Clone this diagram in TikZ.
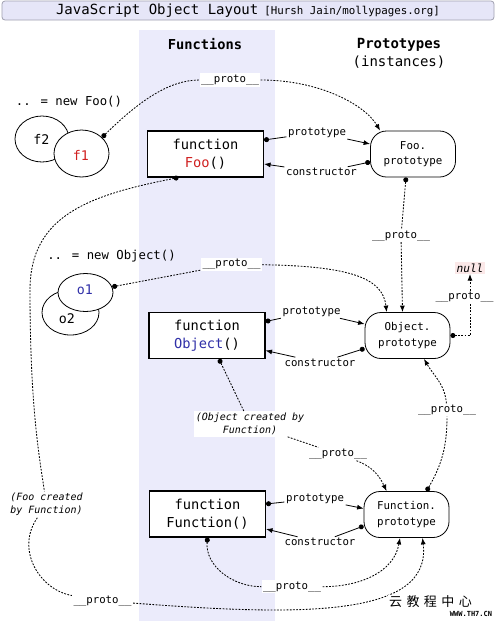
\documentclass[tikz,border=0pt]{standalone}
\usepackage{fontspec}
\setmainfont{DejaVu Sans Mono}
\newfontfamily\cjk{Noto Sans CJK SC}
\usetikzlibrary{arrows.meta,shapes.geometric,calc}
\definecolor{bandc}{HTML}{EBEBFB}
\definecolor{titlec}{HTML}{E6E6F8}
\definecolor{titleb}{HTML}{A0A0B0}
\definecolor{redc}{HTML}{D02020}
\definecolor{bluec}{HTML}{3030A8}
\definecolor{nullc}{HTML}{FBE8E8}
\tikzset{
  fbox/.style={draw, line width=1.1pt, fill=white, minimum width=116pt, minimum height=46pt, inner sep=0pt, align=center, font=\fontsize{13.7}{18.5}\selectfont},
  pbox/.style={draw, line width=0.8pt, fill=white, rounded corners=16pt, minimum width=85pt, minimum height=46pt, inner sep=0pt, align=center, font=\fontsize{10.8}{15.5}\selectfont},
  obj/.style={draw, line width=0.8pt, fill=white, ellipse, inner sep=0pt, font=\fontsize{13.3}{14}\selectfont},
  lbl/.style={fill=white, inner sep=1.5pt, font=\fontsize{10.7}{12}\selectfont},
  ilbl/.style={fill=white, inner sep=1.5pt, align=center, font=\fontsize{10}{13.4}\selectfont\itshape},
  solidc/.style={line width=0.8pt, {Circle[length=5pt]}-},
  solida/.style={line width=0.8pt, -{Latex[length=6.5pt,width=5pt]}},
  dotc/.style={line width=0.85pt, dash pattern=on 1.8pt off 1.4pt, {Circle[length=5pt]}-},
  dotl/.style={line width=0.85pt, dash pattern=on 1.8pt off 1.4pt},
  dota/.style={line width=0.85pt, dash pattern=on 1.8pt off 1.4pt, -{Latex[length=6.5pt,width=5pt]}},
}
\begin{document}
\begin{tikzpicture}[x=1pt,y=-1pt]
\useasboundingbox (0,0) rectangle (500,622);
% band
\fill[bandc] (139,30) rectangle (275,621);
% title
\node[draw=titleb, fill=titlec, line width=0.8pt, rounded corners=3pt, minimum width=492pt, minimum height=19pt, inner sep=0pt] (title) at (248,10.5)
  {{\fontsize{14}{14}\selectfont JavaScript Object Layout} {\fontsize{10.8}{12}\selectfont [Hursh Jain/mollypages.org]}};
% headers
\node[font=\fontsize{13.7}{14}\selectfont\bfseries] (hfun) at (205,44) {Functions};
\node[font=\fontsize{14}{18}\selectfont, align=center] (hpro) at (399,53) {\textbf{Prototypes}\\(instances)};
% instances
\node[font=\fontsize{12.3}{14}\selectfont] (newfoo) at (69,101.5) {.. = new Foo()};
\node[obj, minimum width=54pt, minimum height=46pt] (f2) at (42,139) {};
\node[font=\fontsize{13.3}{14}\selectfont] (f2t) at (41.5,139) {f2};
\node[obj, minimum width=55pt, minimum height=47pt] (f1) at (81.5,153.5) {};
\node[font=\fontsize{13.3}{14}\selectfont, text=redc] (f1t) at (81,155) {f1};
\node[font=\fontsize{12.3}{14}\selectfont] (newobj) at (111.5,256.5) {.. = new Object()};
\node[obj, minimum width=57pt, minimum height=45pt] (o2) at (70.5,312.5) {};
\node[font=\fontsize{13.3}{14}\selectfont] (o2t) at (67,319) {o2};
\node[obj, minimum width=55pt, minimum height=38pt] (o1) at (85.5,292.5) {};
\node[font=\fontsize{13.3}{14}\selectfont, text=bluec] (o1t) at (85,290) {o1};
% function boxes
\node[fbox] (FooBox) at (205.5,154) {function\\\textcolor{redc}{Foo}()};
\node[fbox] (ObjBox) at (207,335.5) {function\\\textcolor{bluec}{Object}()};
\node[fbox] (FunBox) at (207.5,514) {function\\Function()};
% prototype boxes
\node[pbox] (FooP) at (413,154) {Foo.\\prototype};
\node[pbox] (ObjP) at (407.5,335.5) {Object.\\prototype};
\node[pbox] (FunP) at (406.5,514.5) {Function.\\prototype};
% prototype / constructor labels
\node[lbl] (fpr) at (317,132.5) {prototype};
\node[lbl] (fco) at (321.5,172.3) {constructor};
\node[lbl] (opr) at (311.5,311.7) {prototype};
\node[lbl] (oco) at (320,362.7) {constructor};
\node[lbl] (upr) at (315,498.7) {prototype};
\node[lbl] (uco) at (320,542.3) {constructor};
% proto labels
\node[lbl] (p1) at (230,80) {\_\_proto\_\_};
\node[lbl] (p2) at (401,235.5) {\_\_proto\_\_};
\node[lbl] (p3) at (231.5,264.3) {\_\_proto\_\_};
\node[lbl] (p4) at (464.5,297.3) {\_\_proto\_\_};
\node[fill=nullc, inner sep=1.5pt, font=\fontsize{11.2}{12}\selectfont\itshape] (null) at (470,268) {null};
\node[ilbl] (objcr) at (250,424) {(Object created by\\Function)};
\node[lbl] (p5) at (338,454) {\_\_proto\_\_};
\node[lbl] (p6) at (447,410) {\_\_proto\_\_};
\node[lbl] (p7) at (292,586.7) {\_\_proto\_\_};
\node[ilbl, fill=none] (foocr) at (46.5,504.5) {(Foo created\\by Function)};
\node[lbl] (p8) at (102.5,600.7) {\_\_proto\_\_};
% prototype / constructor connectors
\draw[solidc] ([yshift=14pt]FooBox.east) -- (fpr);
\draw[solida] (fpr) -- ([yshift=10pt]FooP.west);
\draw[solidc] ([yshift=-8pt]FooP.west) -- (fco);
\draw[solida] (fco) -- ([yshift=-10pt]FooBox.east);
\draw[solidc] ([yshift=14pt]ObjBox.east) -- (opr);
\draw[solida] (opr) -- ([yshift=11.5pt]ObjP.west);
\draw[solidc] ([yshift=-13pt]ObjP.west) -- (oco);
\draw[solida] (oco) -- ([yshift=-15pt]ObjBox.east);
\draw[solidc] ([yshift=10pt]FunBox.east) -- (upr);
\draw[solida] (upr) -- ([yshift=6pt]FunP.west);
\draw[solidc] ([yshift=-11.5pt]FunP.west) -- (uco);
\draw[solida] (uco) -- ([yshift=-15pt]FunBox.east);
% __proto__ connectors
\draw[dotc] (f1.38) .. controls (140,100) and (170,80) .. (p1);
\draw[dota] (p1) .. controls (320,80) and (365,105) .. ([xshift=10pt]FooP.north west);
\draw[dotc] ([xshift=-7pt]FooP.south) -- (p2);
\draw[dota] (p2) -- ([xshift=-5pt]ObjP.north);
\draw[dotc] (o1.12) -- (p3);
\draw[dota] (p3) .. controls (350,266) and (383,278) .. ([xshift=22pt]ObjP.north west);
\draw[dotc] (ObjP.east) -| (p4.south -| null.south);
\draw[dota] (p4.north -| null.south) -- (null.south);
\draw[dotc] ([xshift=12pt]ObjBox.south) -- (objcr);
\draw[dotl] (objcr) -- (p5);
\draw[dota] (p5) to[out=-20,in=115] ([xshift=23pt]FunP.north west);
\draw[dotc] ([xshift=20pt]FunP.north) to[out=60,in=-90] (p6);
\draw[dota] (p6) to[out=95,in=-60] ([xshift=16.5pt]ObjP.south);
\draw[dotc] (FunBox.south) to[out=-95,in=180] (p7);
\draw[dota] (p7) to[out=0,in=-100] ([xshift=-6.5pt]FunP.south);
\draw[dotc] ([xshift=-27pt]FooBox.south) .. controls (90,195) and (30,215) .. (30,290) .. controls (30,400) and (38,450) .. (foocr);
\draw[dotl] (foocr) .. controls (15,550) and (40,590) .. (p8);
\draw[dota] (p8) .. controls (300,616) and (432,618) .. ([xshift=16pt]FunP.south);
% watermark
\node[fill=white, inner sep=1pt, font=\cjk\fontsize{13}{14}\selectfont] (wm) at (430.5,601.5) {云\hspace{4.5pt}教\hspace{4.5pt}程\hspace{4.5pt}中\hspace{4.5pt}心};
\node[fill=white, inner sep=0.5pt, font=\fontsize{7}{8}\selectfont\bfseries] (wm2) at (471,614) {WWW.TH7.CN};
\end{tikzpicture}
\end{document}
